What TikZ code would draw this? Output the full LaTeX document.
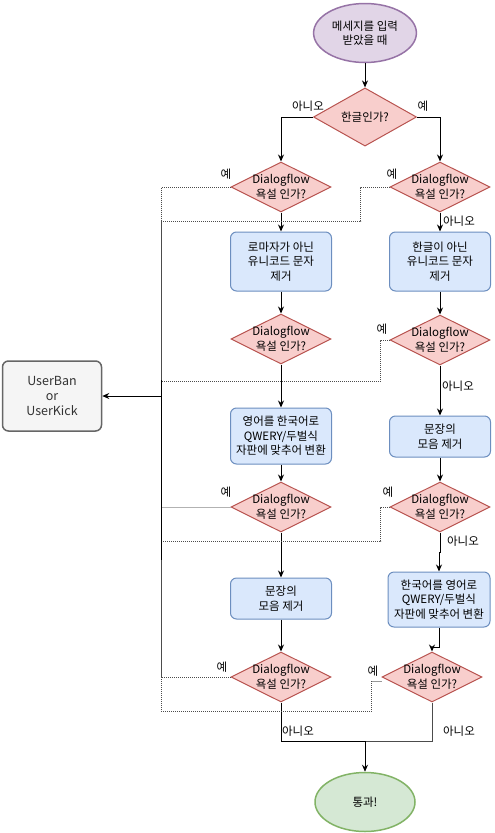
\documentclass[tikz,border=0pt]{standalone}
\usepackage{fontspec}
\setmainfont{Noto Sans CJK KR}
\usetikzlibrary{shapes.geometric,arrows.meta}
\definecolor{purpleFill}{HTML}{E1D5E7}
\definecolor{purpleLine}{HTML}{9673A6}
\definecolor{redFill}{HTML}{F8CECC}
\definecolor{redLine}{HTML}{B85450}
\definecolor{blueFill}{HTML}{DAE8FC}
\definecolor{blueLine}{HTML}{6C8EBF}
\definecolor{greenFill}{HTML}{D5E8D4}
\definecolor{greenLine}{HTML}{82B366}
\definecolor{grayFill}{HTML}{F5F5F5}
\definecolor{grayLine}{HTML}{666666}
\definecolor{grayText}{HTML}{333333}
\begin{document}
\begin{tikzpicture}[x=1pt, y=-1pt, line width=1pt,
  font=\fontsize{11.5}{14.5}\selectfont,
  >={Stealth[length=7pt, width=6pt]},
  dia/.style={diamond, draw=redLine, fill=redFill, minimum width=100pt,
    minimum height=50pt, inner sep=0pt,
    label={[align=center, inner sep=0pt]center:#1}},
  box/.style={draw=blueLine, fill=blueFill, rounded corners=6pt,
    minimum width=101pt, align=center, inner sep=1pt},
  yesline/.style={draw=black!70, line width=0.9pt, dash pattern=on 1pt off 1pt},
  lbl/.style={inner sep=0pt}]
  \useasboundingbox (0, 0) rectangle (495, 833);

  % start and end
  \node[ellipse, draw=purpleLine, fill=purpleFill, line width=1.5pt,
    minimum width=100pt, minimum height=59pt, align=center]
    (start) at (365, 33) {메세지를 입력\\받았을 때};
  \node[ellipse, draw=greenLine, fill=greenFill, line width=1.5pt,
    minimum width=100pt, minimum height=59pt]
    (stop) at (365, 802) {통과!};
  \node[draw=grayLine, fill=grayFill, text=grayText, line width=1.5pt,
    rounded corners=6pt, minimum width=99pt, minimum height=70pt,
    align=center, font=\fontsize{12.5}{15}\selectfont]
    (ban) at (52, 396) {UserBan\\or\\UserKick};

  % questions
  \node[diamond, draw=redLine, fill=redFill, minimum width=103pt,
    minimum height=50pt, inner sep=0pt] (q0) at (365, 117) {한글인가?};
  \node[dia={Dialogflow\\욕설 인가?}] (d1) at (281, 187) {};
  \node[dia={Dialogflow\\욕설 인가?}] (d2) at (440, 187) {};
  \node[dia={Dialogflow\\욕설 인가?}] (d3) at (281, 339) {};
  \node[dia={Dialogflow\\욕설 인가?}] (d4) at (440, 340) {};
  \node[dia={Dialogflow\\욕설 인가?}] (d5) at (281, 507) {};
  \node[dia={Dialogflow\\욕설 인가?}] (d6) at (440, 507) {};
  \node[dia={Dialogflow\\욕설 인가?}] (d7) at (281, 677) {};
  \node[dia={Dialogflow\\욕설 인가?}] (d8) at (432, 677) {};

  % steps
  \node[box, minimum height=59pt] (b1) at (281, 261.5)
    {로마자가 아닌\\유니코드 문자\\제거};
  \node[box, minimum height=59pt] (b2) at (440, 261.5)
    {한글이 아닌\\유니코드 문자\\제거};
  \node[box, minimum height=56pt] (b3) at (281, 436)
    {영어를 한국어로\\QWERY/두벌식\\자판에 맞추어 변환};
  \node[box, minimum height=41pt] (b4) at (440, 436.5)
    {문장의\\모음 제거};
  \node[box, minimum height=41pt] (b5) at (281, 598.5)
    {문장의\\모음 제거};
  \node[box, minimum height=55pt, minimum width=102pt] (b6) at (439, 599.5)
    {한국어를 영어로\\QWERY/두벌식\\자판에 맞추어 변환};

  % main flow
  \draw[->] (start) -- (q0);
  \draw[->] (q0.west) -| (d1);
  \draw[->] (q0.east) -| (d2);
  \draw[->] (d1) -- (b1);
  \draw[->] (b1) -- (d3);
  \draw[->] (d3) -- (b3);
  \draw[->] (b3) -- (d5);
  \draw[->] (d5) -- (b5);
  \draw[->] (b5) -- (d7);
  \draw[->] (d2) -- (b2);
  \draw[->] (b2) -- (d4);
  \draw[->] (d4) -- (b4);
  \draw[->] (b4) -- (d6);
  \draw[->] (d6.south) -- ++(0, 20) -| (b6.north);
  \draw[->] (b6.south) -- ++(0, 20) -| (d8.north);

  \coordinate (m) at (365, 741);
  \draw (d7.south) |- (m);
  \draw[black!70] (d8.south) |- (m);
  \draw[->] (m) -- (stop);

  % to ban
  \coordinate (j) at (161, 396);
  \draw[yesline] (d1.west) -| (j);
  \draw[yesline] (d2.west) -| ++(-29, 34) -| (j);
  \draw[yesline] (d4.west) -| ++(-9, 41) -| (j);
  \draw[black!30] (d5.west) -| (j);
  \draw[yesline] (d6.west) -| ++(-9, 34) -| (j);
  \draw[yesline] (d7.west) -| (j);
  \draw[black!40] ([yshift=-4pt]d8.west) -- ++(-10, 0) coordinate (k);
  \draw[yesline] (k) |- (161, 711) -- (j);
  \draw (161, 380) -- (161, 560);
  \draw[->] (j) -- (ban);

  % labels
  \node[lbl] (n0) at (308, 106) {아니오};
  \node[lbl] (y0) at (423, 106) {예};
  \node[lbl] (y1) at (226, 174) {예};
  \node[lbl] (y2) at (392, 174) {예};
  \node[lbl] (n2) at (459, 221) {아니오};
  \node[lbl] (y4) at (382, 329) {예};
  \node[lbl] (n4) at (458, 386) {아니오};
  \node[lbl] (y5) at (226, 492) {예};
  \node[lbl] (y6) at (388, 492) {예};
  \node[lbl] (n6) at (463, 541) {아니오};
  \node[lbl] (y7) at (222, 667) {예};
  \node[lbl] (y8) at (373, 671) {예};
  \node[lbl] (n7) at (298, 731) {아니오};
  \node[lbl] (n8) at (459, 731) {아니오};
\end{tikzpicture}
\end{document}
